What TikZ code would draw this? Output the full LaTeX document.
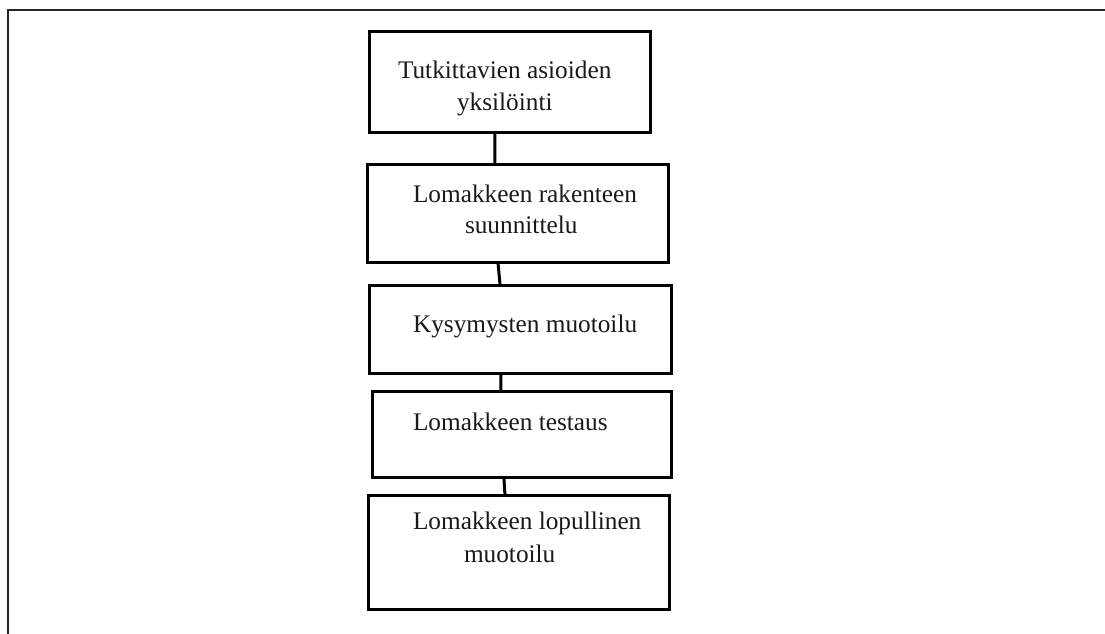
\documentclass[tikz,border=0pt]{standalone}
\usepackage{fontspec}
\setmainfont{Liberation Serif}
\usetikzlibrary{calc}
\begin{document}
\begin{tikzpicture}[x=1pt,y=-1pt,
  stepbox/.style={draw, line width=3pt, inner sep=0pt, outer sep=0pt, anchor=north west},
  lbl/.style={anchor=base west, inner sep=0pt, outer sep=0pt, font=\fontsize{25.3}{30}\selectfont, text=black!90},
  link/.style={line width=3pt}]
\useasboundingbox (0,0) rectangle (1105,634);
% page frame (top and left edges)
\draw[line width=2.6pt, black!85] (1105,10) -- (8,10) -- (8,634);

% process steps
\node[stepbox, minimum width=281pt, minimum height=100pt] (b1) at (369,32) {};
\node[stepbox, minimum width=301pt, minimum height=98pt]  (b2) at (367,164) {};
\node[stepbox, minimum width=302pt, minimum height=88pt]  (b3) at (369,285) {};
\node[stepbox, minimum width=299pt, minimum height=86pt]  (b4) at (372,391) {};
\node[stepbox, minimum width=301pt, minimum height=114pt] (b5) at (368,495) {};

% step labels
\node[lbl] (t1a) at (398,78)  {Tutkittavien asioiden};
\node[lbl] (t1b) at (457,110) {yksilöinti};
\node[lbl] (t2a) at (413,202) {Lomakkeen rakenteen};
\node[lbl] (t2b) at (465,233) {suunnittelu};
\node[lbl] (t3)  at (413,332) {Kysymysten muotoilu};
\node[lbl] (t4)  at (413,430) {Lomakkeen testaus};
\node[lbl] (t5a) at (413,529) {Lomakkeen lopullinen};
\node[lbl] (t5b) at (464,562) {muotoilu};

% connectors between steps
\draw[link] ($(b1.south west)!0.448!(b1.south east)$) -- ($(b2.north west)!0.425!(b2.north east)$);
\draw[link] ($(b2.south west)!0.435!(b2.south east)$) -- ($(b3.north west)!0.434!(b3.north east)$);
\draw[link] ($(b3.south west)!0.437!(b3.south east)$) -- ($(b4.north west)!0.431!(b4.north east)$);
\draw[link] ($(b4.south west)!0.441!(b4.south east)$) -- ($(b5.north west)!0.455!(b5.north east)$);
\end{tikzpicture}
\end{document}
